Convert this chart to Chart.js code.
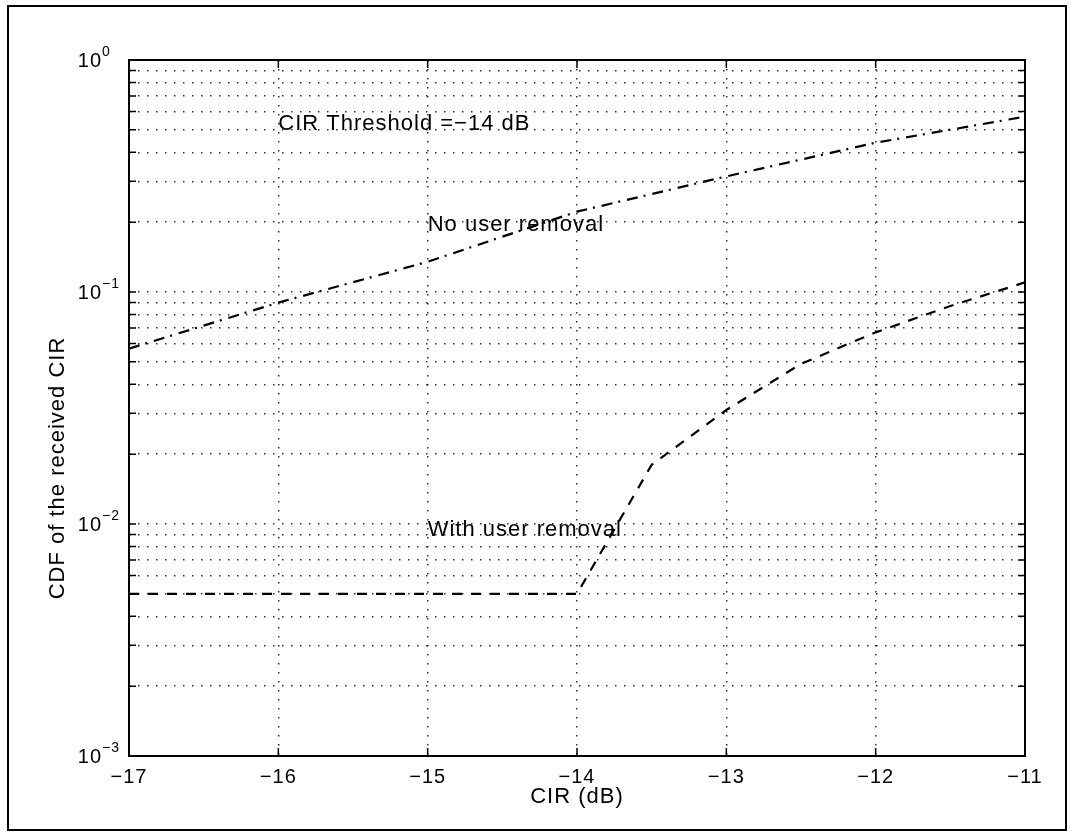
<!DOCTYPE html>
<html>
<head>
<meta charset="utf-8">
<title>CDF of the received CIR</title>
<script src="https://cdn.jsdelivr.net/npm/chart.js@4.4.1/dist/chart.umd.min.js"></script>
<style>
  html, body { margin: 0; padding: 0; background: #fff; }
  canvas { display: block; }
</style>
</head>
<body>
<canvas id="chartCdf" width="1072" height="835"></canvas>
<script>
// ================== DATA ================ //
const cirNoRemoval = [-17, -16, -15, -14, -13, -12, -11];
const cdfNoRemoval = [0.057, 0.09, 0.135, 0.222, 0.315, 0.44, 0.57];

const cirWithRemoval = [-17, -16, -15, -14, -13.5, -13, -12.5, -12, -11.5, -11];
const cdfWithRemoval = [0.005, 0.005, 0.005, 0.005, 0.018, 0.031, 0.049, 0.067, 0.087, 0.11];

const xTickValues = [-17, -16, -15, -14, -13, -12, -11];
const yDecades = [-3, -2, -1, 0];

const noteTexts = ["CIR Threshold =\u221214 dB", "No user removal", "With user removal"];
const noteX = [-16, -15, -15];
const noteY = [0.53, 0.195, 0.0094];

const FONT = '"Liberation Sans", Arial, Helvetica, sans-serif';

// grid lines at 1..9 x 10^n (MATLAB style log grid)
function buildLogGrid() {
  const vals = [];
  yDecades.forEach((e, i) => {
    const last = i === yDecades.length - 1;
    for (let m = 1; m <= (last ? 1 : 9); m++) vals.push(m * Math.pow(10, e));
  });
  return vals;
}

function toPoints(xs, ys) {
  return xs.map((x, i) => ({ x, y: ys[i] }));
}

// ================== FRAME / LABELS PLUGIN ================ //
const matlabFrame = {
  id: "matlabFrame",
  afterDraw(chart) {
    const { ctx, chartArea: a, scales } = chart;
    const xs = scales.x;
    const ys = scales.y;

    ctx.save();
    ctx.strokeStyle = "#000";
    ctx.fillStyle = "#000";

    // figure border
    ctx.lineWidth = 2;
    ctx.strokeRect(8, 6, 1058, 824);

    // axes box
    ctx.strokeRect(a.left, a.top, a.right - a.left, a.bottom - a.top);

    // inward ticks
    ctx.lineWidth = 1.5;
    ctx.beginPath();
    ys.ticks.forEach((t) => {
      const y = ys.getPixelForValue(t.value);
      ctx.moveTo(a.left, y);
      ctx.lineTo(a.left + 7, y);
      ctx.moveTo(a.right, y);
      ctx.lineTo(a.right - 7, y);
    });
    xs.ticks.forEach((t) => {
      const x = xs.getPixelForValue(t.value);
      ctx.moveTo(x, a.bottom);
      ctx.lineTo(x, a.bottom - 8);
      ctx.moveTo(x, a.top);
      ctx.lineTo(x, a.top + 8);
    });
    ctx.stroke();

    // x tick labels
    ctx.font = "20px " + FONT;
    ctx.letterSpacing = "1px";
    ctx.textAlign = "center";
    ctx.textBaseline = "middle";
    xTickValues.forEach((v) => {
      const label = (v < 0 ? "\u2212" : "") + Math.abs(v);
      ctx.fillText(label, xs.getPixelForValue(v), a.bottom + 21);
    });

    // y tick labels: 10^n
    yDecades.forEach((e) => {
      const y = ys.getPixelForValue(Math.pow(10, e));
      ctx.font = "20px " + FONT;
      ctx.textAlign = "right";
      ctx.textBaseline = "middle";
      ctx.fillText("10", 102, y + 1);
      ctx.font = "14px " + FONT;
      ctx.textAlign = "left";
      ctx.fillText(e < 0 ? "\u2212" + Math.abs(e) : String(e), 102, y - 8);
    });

    // axis titles
    ctx.font = "22px " + FONT;
    ctx.letterSpacing = "1px";
    ctx.textAlign = "center";
    ctx.textBaseline = "middle";
    ctx.fillText("CIR (dB)", (a.left + a.right) / 2, 797);

    ctx.save();
    ctx.translate(58, 468);
    ctx.rotate(-Math.PI / 2);
    ctx.fillText("CDF of the received CIR", 0, 0);
    ctx.restore();

    // text annotations
    ctx.textAlign = "left";
    noteTexts.forEach((txt, i) => {
      ctx.fillText(txt, xs.getPixelForValue(noteX[i]), ys.getPixelForValue(noteY[i]));
    });

    ctx.restore();
  },
};

// ================== CHART ================ //
function renderChartCdf() {
  const canvas = document.getElementById("chartCdf");
  if (!canvas) return;

  const gridValues = buildLogGrid();

  new Chart(canvas, {
    type: "line",
    data: {
      datasets: [
        {
          label: "No user removal",
          data: toPoints(cirNoRemoval, cdfNoRemoval),
          borderColor: "#000",
          borderWidth: 2.2,
          borderDash: [11, 6, 2, 7],
          pointRadius: 0,
          tension: 0,
          fill: false,
        },
        {
          label: "With user removal",
          data: toPoints(cirWithRemoval, cdfWithRemoval),
          borderColor: "#000",
          borderWidth: 2.2,
          borderDash: [10, 9],
          pointRadius: 0,
          tension: 0,
          fill: false,
        },
      ],
    },
    options: {
      responsive: false,
      animation: false,
      devicePixelRatio: 1,
      layout: {
        padding: { left: 129, top: 60, right: 47, bottom: 79 },
      },
      plugins: {
        legend: { display: false },
        tooltip: { enabled: false },
      },
      scales: {
        x: {
          type: "linear",
          min: -17,
          max: -11,
          afterBuildTicks: (scale) => {
            scale.ticks = xTickValues.map((v) => ({ value: v }));
          },
          ticks: { display: false },
          grid: { color: "#333", lineWidth: 1.5, drawTicks: false },
          border: { display: false, dash: [1.5, 7.5] },
        },
        y: {
          type: "logarithmic",
          min: 0.001,
          max: 1,
          afterBuildTicks: (scale) => {
            scale.ticks = gridValues.map((v) => ({ value: v }));
          },
          ticks: { display: false },
          grid: { color: "#333", lineWidth: 1.5, drawTicks: false },
          border: { display: false, dash: [1.5, 7.5] },
        },
      },
    },
    plugins: [matlabFrame],
  });
}

renderChartCdf();
</script>
</body>
</html>
